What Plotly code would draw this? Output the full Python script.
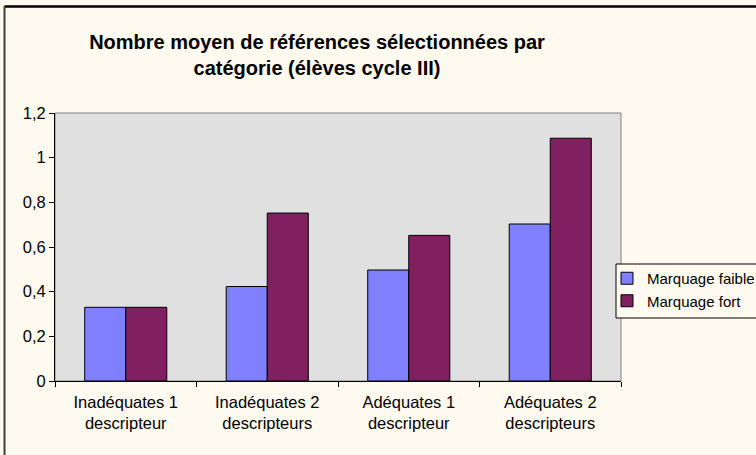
import plotly.graph_objects as go

categories = ["Inadéquates 1<br>descripteur", "Inadéquates 2<br>descripteurs",
              "Adéquates 1<br>descripteur", "Adéquates 2<br>descripteurs"]
faible = [0.33, 0.423, 0.497, 0.703]
fort = [0.33, 0.752, 0.652, 1.087]
y_ticks = [0, 0.2, 0.4, 0.6, 0.8, 1, 1.2]
y_labels = ["0", "0,2", "0,4", "0,6", "0,8", "1", "1,2"]

font = "Arial, Liberation Sans, sans-serif"
W, H = 756, 455
L, R, T, B = 55, 135, 113, 74
PW, PH = W - L - R, H - T - B

def px_x(x):
    return (x - L) / PW

def px_y(y):
    return (H - B - y) / PH

fig = go.Figure()
fig.add_trace(go.Bar(name="Marquage faible", x=categories, y=faible,
                     marker=dict(color="#8080FF", line=dict(color="black", width=1))))
fig.add_trace(go.Bar(name="Marquage fort", x=categories, y=fort,
                     marker=dict(color="#802060", line=dict(color="black", width=1))))

fig.update_layout(
    width=W, height=H,
    margin=dict(l=L, r=R, t=T, b=B, autoexpand=False),
    paper_bgcolor="#FFFAF0",
    plot_bgcolor="#E0E0E0",
    barmode="group",
    bargap=0.42,
    bargroupgap=0,
    font=dict(family=font, size=16.5, color="black"),
    title=dict(text="<b>Nombre moyen de références sélectionnées par<br>catégorie (élèves cycle III)</b>",
               xref="container", x=317 / W, xanchor="center",
               yref="container", y=1 - 49 / H, yanchor="middle",
               font=dict(family=font, size=20, color="black")),
    legend=dict(xref="container", x=607 / W, xanchor="left",
                yref="container", y=1 - 262 / H, yanchor="top",
                bgcolor="rgba(0,0,0,0)", borderwidth=0,
                font=dict(family=font, size=15, color="black")),
    showlegend=True,
)
fig.update_xaxes(showline=True, linecolor="black", linewidth=1,
                 ticks="outside", tickson="boundaries", ticklen=5, tickcolor="black",
                 ticklabelstandoff=6,
                 showgrid=False, tickfont=dict(size=16.5))
fig.update_yaxes(range=[0, 1.2], tickvals=y_ticks, ticktext=y_labels,
                 showline=True, linecolor="black", linewidth=1,
                 ticks="outside", ticklen=5, tickcolor="black", ticklabelstandoff=0,
                 showgrid=False, zeroline=False, tickfont=dict(size=16.5))

# plot area border (gray top/right)
fig.add_shape(type="rect", xref="paper", yref="paper", x0=0, x1=1, y0=0, y1=1,
              line=dict(color="#808080", width=1), layer="below")
# legend box
fig.add_shape(type="rect", xref="paper", yref="paper",
              x0=px_x(616), x1=px_x(762), y0=px_y(264), y1=px_y(318),
              line=dict(color="black", width=1), fillcolor="#FFFAF0", layer="above")
# outer chart border (top and left visible)
fig.add_shape(type="line", xref="paper", yref="paper",
              x0=px_x(4.5), x1=px_x(770), y0=px_y(6.5), y1=px_y(6.5),
              line=dict(color="black", width=2.5), layer="above")
fig.add_shape(type="line", xref="paper", yref="paper",
              x0=px_x(4.5), x1=px_x(4.5), y0=px_y(6), y1=px_y(470),
              line=dict(color="#404040", width=2), layer="above")

fig.write_html("out.html", config={"displayModeBar": False},
               post_script="document.body.style.margin='0';document.body.style.background='#FFFAF0';")
